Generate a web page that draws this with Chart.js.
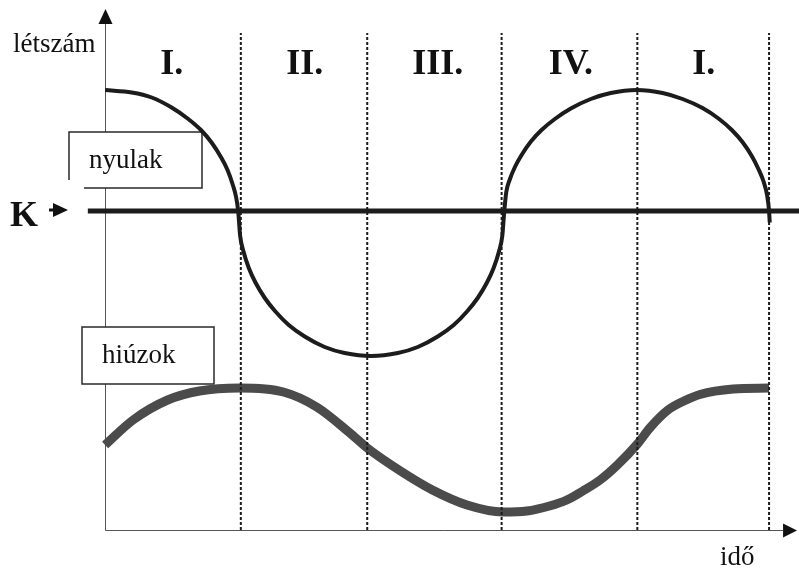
<!DOCTYPE html>
<html>
<head>
<meta charset="utf-8">
<script src="https://cdn.jsdelivr.net/npm/chart.js@4/dist/chart.umd.min.js"></script>
<style>
    html, body { margin: 0; padding: 0; background: #fff; }
    #chart { display: block; }
</style>
</head>
<body>
<canvas id="chart" width="799" height="569"></canvas>
<script>
// Time (x) and population (y), arbitrary units
const rabbitTime = [0, 0.2, 0.35, 0.5, 0.62, 0.72, 0.8, 0.87, 0.92, 0.96, 0.985, 1.0,
    1.015, 1.04, 1.08, 1.13, 1.2, 1.28, 1.38, 1.5, 1.65, 1.8, 2.0, 2.2, 2.35, 2.5, 2.62, 2.72, 2.8, 2.87, 2.92, 2.96, 2.985, 3.0,
    3.015, 3.04, 3.08, 3.13, 3.2, 3.28, 3.38, 3.5, 3.65, 3.8, 3.995, 4.19, 4.34, 4.49, 4.61, 4.71, 4.79, 4.86, 4.91, 4.95, 4.975, 4.99, 4.995];
const rabbitCount = [88, 87.5, 86.5, 84.5, 82.3, 80, 77.5, 74.6, 72, 69, 66.5, 63.8,
    58.8, 55.7, 52.4, 49.5, 46.4, 43.7, 41, 38.7, 36.6, 35.4, 34.8, 35.4, 36.6, 38.7, 41, 43.7, 46.4, 49.5, 52.4, 55.7, 58.8, 63.8,
    67.6, 70, 72.6, 75, 77.7, 80, 82.2, 84.3, 86.2, 87.4, 88, 87.4, 86.2, 84.4, 82.3, 80, 77.6, 74.8, 72.2, 69.6, 67, 63.8, 61.5];

const lynxTime = [0, 0.21, 0.47, 0.71, 1.01, 1.34, 1.59, 1.84, 1.97, 2.22, 2.46, 2.72, 2.99,
    3.17, 3.34, 3.47, 3.59, 3.72, 3.85, 4.0, 4.10, 4.23, 4.35, 4.47, 4.72, 4.99];
const lynxCount = [17, 22, 26, 27.8, 28.4, 27.6, 24.6, 19.4, 16.4, 11.8, 8, 5, 3.6,
    3.8, 4.8, 6, 7.8, 10, 13, 17.2, 20.6, 24, 25.8, 27.1, 28.2, 28.4];

const capacityLevel = 63.8;          // K
const capacitySpan = [-0.13, 5.215];

const phaseBounds = [1.02, 1.97, 2.98, 4.0, 4.99];
const phaseTop = 99.4;
const phaseNames = ['I.', 'II.', 'III.', 'IV.', 'I.'];
const phaseLabelTime = [0.5, 1.5, 2.5, 3.5, 4.5];

const toPoints = (xs, ys) => xs.map((x, i) => ({ x: x, y: ys[i] }));

const SERIF = '"Liberation Serif", "Times New Roman", serif';
const INK = '#1c1c1c';

/**
 * Axes with arrowheads, labels and the two boxed captions
 */
const decorations = {
    id: 'decorations',
    beforeDatasetsDraw(chart) {
        const ctx = chart.ctx;
        const xs = chart.scales.x;
        const ys = chart.scales.y;
        const x0 = Math.round(xs.getPixelForValue(0)) + 0.5;
        const y0 = Math.round(ys.getPixelForValue(0)) + 0.5;

        ctx.save();
        // axis lines
        ctx.strokeStyle = '#555';
        ctx.lineWidth = 1;
        ctx.beginPath();
        ctx.moveTo(x0, y0);
        ctx.lineTo(x0, ys.getPixelForValue(101.2));
        ctx.moveTo(x0, y0);
        ctx.lineTo(xs.getPixelForValue(5.095), y0);
        ctx.stroke();

        // arrowheads
        ctx.fillStyle = '#111';
        ctx.beginPath();
        ctx.moveTo(x0, ys.getPixelForValue(104.2));
        ctx.lineTo(x0 - 7, ys.getPixelForValue(101.2));
        ctx.lineTo(x0 + 7, ys.getPixelForValue(101.2));
        ctx.closePath();
        ctx.fill();
        ctx.beginPath();
        ctx.moveTo(xs.getPixelForValue(5.2), y0);
        ctx.lineTo(xs.getPixelForValue(5.095), y0 - 7);
        ctx.lineTo(xs.getPixelForValue(5.095), y0 + 7);
        ctx.closePath();
        ctx.fill();

        // caption boxes (white, over the axis)
        ctx.fillStyle = '#fff';
        ctx.fillRect(69, 132, 133, 56);
        ctx.fillRect(82, 327, 132, 57);
        ctx.strokeStyle = '#2a2a2a';
        ctx.lineWidth = 1.5;
        ctx.beginPath();
        ctx.moveTo(84, 188);
        ctx.lineTo(202, 188);
        ctx.lineTo(202, 132);
        ctx.lineTo(69, 132);
        ctx.lineTo(69, 180);
        ctx.stroke();
        ctx.strokeRect(82, 327, 132, 57);

        // texts
        ctx.fillStyle = '#111';
        ctx.textAlign = 'left';
        ctx.textBaseline = 'alphabetic';
        ctx.font = '27px ' + SERIF;
        ctx.fillText('létszám', 13, 52);
        ctx.fillText('nyulak', 89, 168);
        ctx.fillText('hiúzok', 102, 363);
        ctx.fillText('idő', 720, 565);

        ctx.font = 'bold 36px ' + SERIF;
        ctx.fillText('K', 10, 226);

        // K arrow
        ctx.lineWidth = 3;
        ctx.strokeStyle = '#111';
        ctx.beginPath();
        ctx.moveTo(49, 210);
        ctx.lineTo(55, 210);
        ctx.stroke();
        ctx.beginPath();
        ctx.moveTo(53, 203);
        ctx.lineTo(68, 210);
        ctx.lineTo(53, 217);
        ctx.closePath();
        ctx.fill();

        // phase names
        ctx.textAlign = 'center';
        ctx.font = 'bold 36px ' + SERIF;
        phaseNames.forEach((name, i) => {
            ctx.fillText(name, xs.getPixelForValue(phaseLabelTime[i]), ys.getPixelForValue(91.2));
        });
        ctx.restore();
    }
};

const phaseDatasets = phaseBounds.map(b => ({
    label: 'phase',
    data: [{ x: b, y: 0 }, { x: b, y: phaseTop }],
    borderColor: INK,
    borderWidth: 2,
    borderDash: [3, 2],
    tension: 0,
}));

new Chart(document.getElementById('chart'), {
    type: 'line',
    data: {
        datasets: [
            ...phaseDatasets,
            {
                label: 'nyulak',
                data: toPoints(rabbitTime, rabbitCount),
                borderColor: INK,
                borderWidth: 4,
                borderCapStyle: 'butt',
                borderJoinStyle: 'round',
                cubicInterpolationMode: 'monotone',
            },
            {
                label: 'K',
                data: capacitySpan.map(x => ({ x: x, y: capacityLevel })),
                borderColor: INK,
                borderWidth: 5,
                tension: 0,
            },
            {
                label: 'hiúzok',
                data: toPoints(lynxTime, lynxCount),
                borderColor: '#4b4b4b',
                borderWidth: 9,
                borderCapStyle: 'butt',
                borderJoinStyle: 'round',
                cubicInterpolationMode: 'monotone',
            },
        ]
    },
    options: {
        responsive: false,
        animation: false,
        layout: { padding: { top: 9, bottom: 39, left: 0, right: 0 } },
        elements: { point: { radius: 0, hoverRadius: 0 } },
        scales: {
            x: { type: 'linear', min: -0.79, max: 5.215, display: false },
            y: { type: 'linear', min: 0, max: 104.2, display: false },
        },
        plugins: {
            legend: { display: false },
            tooltip: { enabled: false },
        },
        events: [],
    },
    plugins: [decorations],
});
</script>
</body>
</html>
